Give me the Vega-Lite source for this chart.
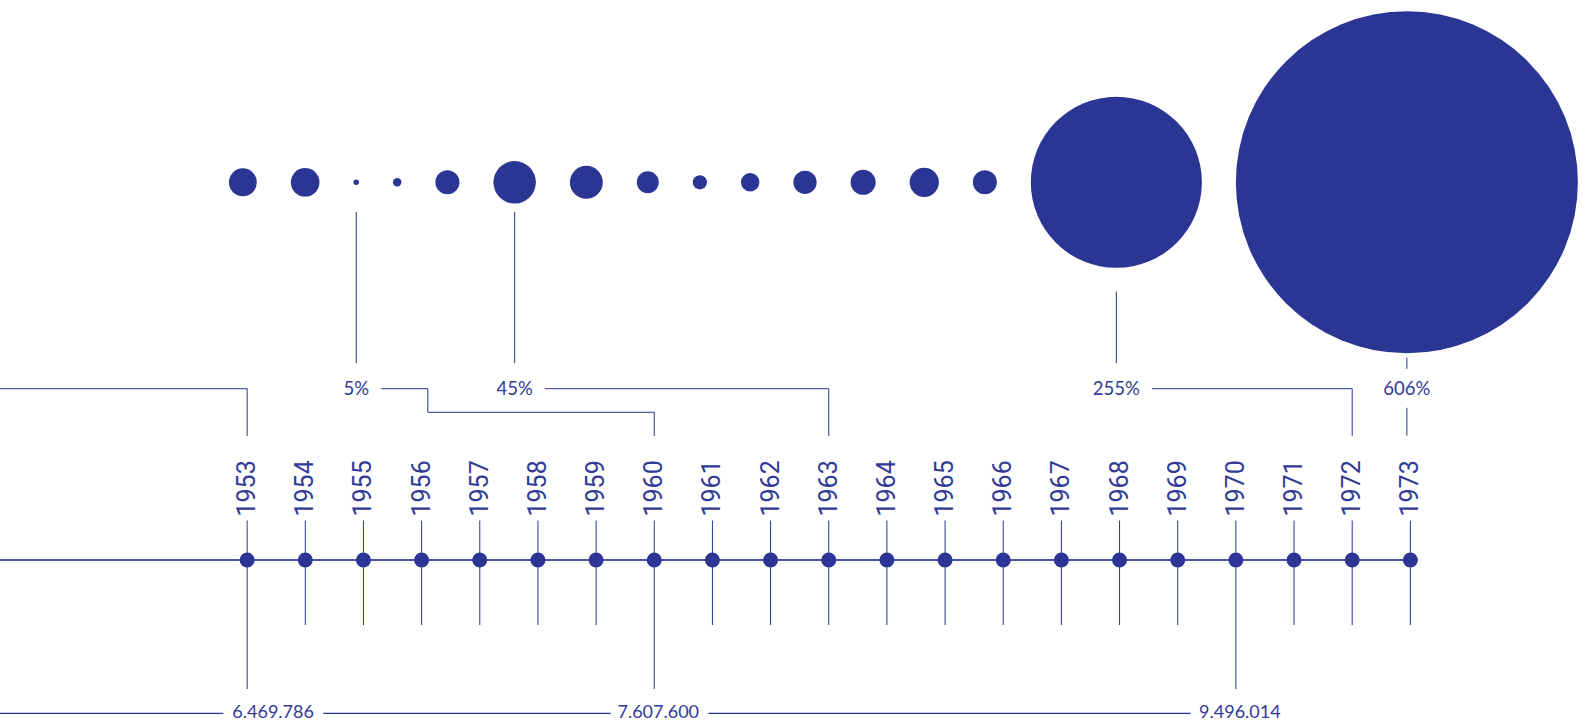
{
  "$schema": "https://vega.github.io/schema/vega-lite/v6.json",
  "width": 1582,
  "height": 724,
  "autosize": {"type": "none"},
  "padding": 0,
  "background": "white",
  "config": {"view": {"stroke": null}},
  "datasets": {
    "timeline": [
      {"year": 1953, "population": 6469786},
      {"year": 1954}, {"year": 1955}, {"year": 1956}, {"year": 1957}, {"year": 1958}, {"year": 1959},
      {"year": 1960, "population": 7607600},
      {"year": 1961}, {"year": 1962}, {"year": 1963}, {"year": 1964}, {"year": 1965}, {"year": 1966},
      {"year": 1967}, {"year": 1968}, {"year": 1969},
      {"year": 1970, "population": 9496014},
      {"year": 1971}, {"year": 1972}, {"year": 1973}
    ],
    "growth": [
      {"year": 1958, "growth": 26.9},
      {"year": 1959, "growth": 27.8},
      {"year": 1960, "growth": 5, "label": "5%"},
      {"year": 1961, "growth": 7.1},
      {"year": 1962, "growth": 22.5},
      {"year": 1963, "growth": 45, "label": "45%"},
      {"year": 1964, "growth": 32.9},
      {"year": 1965, "growth": 20.2},
      {"year": 1966, "growth": 12.2},
      {"year": 1967, "growth": 16.4},
      {"year": 1968, "growth": 21.6},
      {"year": 1969, "growth": 23.6},
      {"year": 1970, "growth": 28.5},
      {"year": 1971, "growth": 22.4},
      {"year": 1972, "growth": 255, "label": "255%"},
      {"year": 1973, "growth": 606, "label": "606%"}
    ]
  },
  "layer": [
    {
      "data": {"name": "timeline"},
      "transform": [
        {"calculate": "isValid(datum.population) ? replace(format(datum.population, ',d'), regexp(',', 'g'), '.') : null", "as": "popLabel"}
      ],
      "layer": [
        {
          "transform": [{"filter": "datum.year == 1953"}],
          "mark": {"type": "rule", "color": "#2b3594", "strokeWidth": 1},
          "encoding": {
            "x": {"field": "year", "type": "quantitative", "scale": {"domain": [1948.751, 1975.951], "nice": false, "zero": false}, "axis": null},
            "x2": {"datum": 1948.751},
            "y": {"datum": 388.7, "type": "quantitative", "scale": {"domainMin": 0, "domainMax": 724, "reverse": true, "nice": false, "zero": false}, "axis": null}
          }
        },
        {
          "transform": [{"filter": "datum.year == 1953"}],
          "mark": {"type": "rule", "color": "#2b3594", "strokeWidth": 1},
          "encoding": {
            "x": {"field": "year", "type": "quantitative", "scale": {"domain": [1948.751, 1975.951], "nice": false, "zero": false}, "axis": null},
            "y": {"datum": 388.7, "type": "quantitative", "scale": {"domainMin": 0, "domainMax": 724, "reverse": true, "nice": false, "zero": false}, "axis": null},
            "y2": {"datum": 436}
          }
        },
        {
          "transform": [{"filter": "datum.year == 1973"}],
          "mark": {"type": "rule", "color": "#4b53a5", "strokeWidth": 2},
          "encoding": {
            "x": {"field": "year", "type": "quantitative", "scale": {"domain": [1948.751, 1975.951], "nice": false, "zero": false}, "axis": null},
            "x2": {"datum": 1948.751},
            "y": {"datum": 560, "type": "quantitative", "scale": {"domainMin": 0, "domainMax": 724, "reverse": true, "nice": false, "zero": false}, "axis": null}
          }
        },
        {
          "transform": [{"filter": "!isValid(datum.population)"}],
          "mark": {"type": "rule", "color": "#2b3594", "strokeWidth": 1},
          "encoding": {
            "x": {"field": "year", "type": "quantitative", "scale": {"domain": [1948.751, 1975.951], "nice": false, "zero": false}, "axis": null},
            "y": {"datum": 520.5, "type": "quantitative", "scale": {"domainMin": 0, "domainMax": 724, "reverse": true, "nice": false, "zero": false}, "axis": null},
            "y2": {"datum": 625}
          }
        },
        {
          "transform": [{"filter": "isValid(datum.population)"}],
          "mark": {"type": "rule", "color": "#2b3594", "strokeWidth": 1},
          "encoding": {
            "x": {"field": "year", "type": "quantitative", "scale": {"domain": [1948.751, 1975.951], "nice": false, "zero": false}, "axis": null},
            "y": {"datum": 520.5, "type": "quantitative", "scale": {"domainMin": 0, "domainMax": 724, "reverse": true, "nice": false, "zero": false}, "axis": null},
            "y2": {"datum": 689}
          }
        },
        {
          "mark": {"type": "circle", "color": "#2b3594", "opacity": 1},
          "encoding": {
            "x": {"field": "year", "type": "quantitative", "scale": {"domain": [1948.751, 1975.951], "nice": false, "zero": false}, "axis": null},
            "y": {"datum": 560, "type": "quantitative", "scale": {"domainMin": 0, "domainMax": 724, "reverse": true, "nice": false, "zero": false}, "axis": null},
            "size": {"value": 225}
          }
        },
        {
          "mark": {"type": "text", "angle": 270, "align": "left", "baseline": "middle", "font": "Roboto", "fontSize": 25, "color": "#323a96"},
          "encoding": {
            "x": {"field": "year", "type": "quantitative", "scale": {"domain": [1948.751, 1975.951], "nice": false, "zero": false}, "axis": null},
            "y": {"datum": 516.5, "type": "quantitative", "scale": {"domainMin": 0, "domainMax": 724, "reverse": true, "nice": false, "zero": false}, "axis": null},
            "text": {"field": "year", "type": "nominal"}
          }
        },
        {
          "transform": [{"filter": "datum.year == 1970"}],
          "mark": {"type": "rule", "color": "#2b3594", "strokeWidth": 1.2},
          "encoding": {
            "x": {"field": "year", "type": "quantitative", "scale": {"domain": [1948.751, 1975.951], "nice": false, "zero": false}, "axis": null},
            "x2": {"datum": 1948.751},
            "y": {"datum": 713.3, "type": "quantitative", "scale": {"domainMin": 0, "domainMax": 724, "reverse": true, "nice": false, "zero": false}, "axis": null}
          }
        },
        {
          "transform": [{"filter": "datum.year == 1953"}],
          "mark": {"type": "text", "align": "center", "baseline": "middle", "dx": 26, "font": "Lato", "fontSize": 18, "color": "white", "stroke": "white", "strokeWidth": 20, "strokeJoin": "round"},
          "encoding": {
            "x": {"field": "year", "type": "quantitative", "scale": {"domain": [1948.751, 1975.951], "nice": false, "zero": false}, "axis": null},
            "y": {"datum": 713.3, "type": "quantitative", "scale": {"domainMin": 0, "domainMax": 724, "reverse": true, "nice": false, "zero": false}, "axis": null},
            "text": {"field": "popLabel", "type": "nominal"}
          }
        },
        {
          "transform": [{"filter": "datum.year == 1953"}],
          "mark": {"type": "text", "align": "center", "baseline": "middle", "dx": 26, "font": "Lato", "fontSize": 18, "color": "#323a96"},
          "encoding": {
            "x": {"field": "year", "type": "quantitative", "scale": {"domain": [1948.751, 1975.951], "nice": false, "zero": false}, "axis": null},
            "y": {"datum": 713.3, "type": "quantitative", "scale": {"domainMin": 0, "domainMax": 724, "reverse": true, "nice": false, "zero": false}, "axis": null},
            "text": {"field": "popLabel", "type": "nominal"}
          }
        },
        {
          "transform": [{"filter": "isValid(datum.population) && datum.year != 1953"}],
          "mark": {"type": "text", "align": "center", "baseline": "middle", "dx": 4, "font": "Lato", "fontSize": 18, "color": "white", "stroke": "white", "strokeWidth": 20, "strokeJoin": "round"},
          "encoding": {
            "x": {"field": "year", "type": "quantitative", "scale": {"domain": [1948.751, 1975.951], "nice": false, "zero": false}, "axis": null},
            "y": {"datum": 713.3, "type": "quantitative", "scale": {"domainMin": 0, "domainMax": 724, "reverse": true, "nice": false, "zero": false}, "axis": null},
            "text": {"field": "popLabel", "type": "nominal"}
          }
        },
        {
          "transform": [{"filter": "isValid(datum.population) && datum.year != 1953"}],
          "mark": {"type": "text", "align": "center", "baseline": "middle", "dx": 4, "font": "Lato", "fontSize": 18, "color": "#323a96"},
          "encoding": {
            "x": {"field": "year", "type": "quantitative", "scale": {"domain": [1948.751, 1975.951], "nice": false, "zero": false}, "axis": null},
            "y": {"datum": 713.3, "type": "quantitative", "scale": {"domainMin": 0, "domainMax": 724, "reverse": true, "nice": false, "zero": false}, "axis": null},
            "text": {"field": "popLabel", "type": "nominal"}
          }
        }
      ]
    },
    {
      "data": {"name": "growth"},
      "transform": [
        {"calculate": "sqrt(116964 * (pow(datum.growth, 1.6) - pow(3, 1.6)) / (pow(606, 1.6) - pow(3, 1.6)))", "as": "d"},
        {"calculate": "datum.d + 34.0", "as": "w"},
        {"window": [{"op": "sum", "field": "w", "as": "cum"}], "sort": [{"field": "year"}], "frame": [null, 0]},
        {"window": [{"op": "first_value", "field": "d", "as": "d1"}], "sort": [{"field": "year"}], "frame": [null, null]},
        {"calculate": "1952.927 + (datum.cum - datum.w + datum.d / 2 - datum.d1 / 2) / 58.163", "as": "bx"},
        {"calculate": "datum.bx + 71.6 / 58.163", "as": "ex"}
      ],
      "layer": [
        {
          "mark": {"type": "circle", "color": "#2b3594", "opacity": 1},
          "encoding": {
            "x": {"field": "bx", "type": "quantitative", "scale": {"domain": [1948.751, 1975.951], "nice": false, "zero": false}, "axis": null},
            "y": {"datum": 182.3, "type": "quantitative", "scale": {"domainMin": 0, "domainMax": 724, "reverse": true, "nice": false, "zero": false}, "axis": null},
            "size": {"field": "growth", "type": "quantitative", "scale": {"type": "pow", "exponent": 1.6, "domain": [3, 606], "range": [0, 116964], "zero": false}, "legend": null}
          }
        },
        {
          "transform": [{"filter": "datum.year == 1960 || datum.year == 1963"}],
          "mark": {"type": "rule", "color": "#2b3594", "strokeWidth": 1},
          "encoding": {
            "x": {"field": "bx", "type": "quantitative", "scale": {"domain": [1948.751, 1975.951], "nice": false, "zero": false}, "axis": null},
            "y": {"datum": 212, "type": "quantitative", "scale": {"domainMin": 0, "domainMax": 724, "reverse": true, "nice": false, "zero": false}, "axis": null},
            "y2": {"datum": 363}
          }
        },
        {
          "transform": [{"filter": "datum.year == 1972"}],
          "mark": {"type": "rule", "color": "#2b3594", "strokeWidth": 1},
          "encoding": {
            "x": {"field": "bx", "type": "quantitative", "scale": {"domain": [1948.751, 1975.951], "nice": false, "zero": false}, "axis": null},
            "y": {"datum": 291.6, "type": "quantitative", "scale": {"domainMin": 0, "domainMax": 724, "reverse": true, "nice": false, "zero": false}, "axis": null},
            "y2": {"datum": 363}
          }
        },
        {
          "transform": [{"filter": "datum.year == 1973"}],
          "mark": {"type": "rule", "color": "#2b3594", "strokeWidth": 1},
          "encoding": {
            "x": {"field": "bx", "type": "quantitative", "scale": {"domain": [1948.751, 1975.951], "nice": false, "zero": false}, "axis": null},
            "y": {"datum": 357.7, "type": "quantitative", "scale": {"domainMin": 0, "domainMax": 724, "reverse": true, "nice": false, "zero": false}, "axis": null},
            "y2": {"datum": 435.7}
          }
        },
        {
          "transform": [{"filter": "datum.year == 1963 || datum.year == 1972"}],
          "mark": {"type": "rule", "color": "#2b3594", "strokeWidth": 1},
          "encoding": {
            "x": {"field": "bx", "type": "quantitative", "scale": {"domain": [1948.751, 1975.951], "nice": false, "zero": false}, "axis": null},
            "x2": {"field": "year"},
            "y": {"datum": 388.7, "type": "quantitative", "scale": {"domainMin": 0, "domainMax": 724, "reverse": true, "nice": false, "zero": false}, "axis": null}
          }
        },
        {
          "transform": [{"filter": "datum.year == 1963 || datum.year == 1972"}],
          "mark": {"type": "rule", "color": "#2b3594", "strokeWidth": 1},
          "encoding": {
            "x": {"field": "year", "type": "quantitative", "scale": {"domain": [1948.751, 1975.951], "nice": false, "zero": false}, "axis": null},
            "y": {"datum": 388.7, "type": "quantitative", "scale": {"domainMin": 0, "domainMax": 724, "reverse": true, "nice": false, "zero": false}, "axis": null},
            "y2": {"datum": 436}
          }
        },
        {
          "transform": [{"filter": "datum.year == 1960"}],
          "mark": {"type": "rule", "color": "#2b3594", "strokeWidth": 1},
          "encoding": {
            "x": {"field": "bx", "type": "quantitative", "scale": {"domain": [1948.751, 1975.951], "nice": false, "zero": false}, "axis": null},
            "x2": {"field": "ex"},
            "y": {"datum": 388.7, "type": "quantitative", "scale": {"domainMin": 0, "domainMax": 724, "reverse": true, "nice": false, "zero": false}, "axis": null}
          }
        },
        {
          "transform": [{"filter": "datum.year == 1960"}],
          "mark": {"type": "rule", "color": "#2b3594", "strokeWidth": 1},
          "encoding": {
            "x": {"field": "ex", "type": "quantitative", "scale": {"domain": [1948.751, 1975.951], "nice": false, "zero": false}, "axis": null},
            "y": {"datum": 388.7, "type": "quantitative", "scale": {"domainMin": 0, "domainMax": 724, "reverse": true, "nice": false, "zero": false}, "axis": null},
            "y2": {"datum": 412.3}
          }
        },
        {
          "transform": [{"filter": "datum.year == 1960"}],
          "mark": {"type": "rule", "color": "#2b3594", "strokeWidth": 1},
          "encoding": {
            "x": {"field": "ex", "type": "quantitative", "scale": {"domain": [1948.751, 1975.951], "nice": false, "zero": false}, "axis": null},
            "x2": {"field": "year"},
            "y": {"datum": 412.3, "type": "quantitative", "scale": {"domainMin": 0, "domainMax": 724, "reverse": true, "nice": false, "zero": false}, "axis": null}
          }
        },
        {
          "transform": [{"filter": "datum.year == 1960"}],
          "mark": {"type": "rule", "color": "#2b3594", "strokeWidth": 1},
          "encoding": {
            "x": {"field": "year", "type": "quantitative", "scale": {"domain": [1948.751, 1975.951], "nice": false, "zero": false}, "axis": null},
            "y": {"datum": 412.3, "type": "quantitative", "scale": {"domainMin": 0, "domainMax": 724, "reverse": true, "nice": false, "zero": false}, "axis": null},
            "y2": {"datum": 436}
          }
        },
        {
          "transform": [{"filter": "isValid(datum.label)"}],
          "mark": {"type": "text", "align": "center", "baseline": "middle", "font": "Lato", "fontSize": 18.5, "color": "white", "stroke": "white", "strokeWidth": 26, "strokeJoin": "round"},
          "encoding": {
            "x": {"field": "bx", "type": "quantitative", "scale": {"domain": [1948.751, 1975.951], "nice": false, "zero": false}, "axis": null},
            "y": {"datum": 389, "type": "quantitative", "scale": {"domainMin": 0, "domainMax": 724, "reverse": true, "nice": false, "zero": false}, "axis": null},
            "text": {"field": "label", "type": "nominal"}
          }
        },
        {
          "transform": [{"filter": "isValid(datum.label)"}],
          "mark": {"type": "text", "align": "center", "baseline": "middle", "font": "Lato", "fontSize": 18.5, "color": "#323a96"},
          "encoding": {
            "x": {"field": "bx", "type": "quantitative", "scale": {"domain": [1948.751, 1975.951], "nice": false, "zero": false}, "axis": null},
            "y": {"datum": 389, "type": "quantitative", "scale": {"domainMin": 0, "domainMax": 724, "reverse": true, "nice": false, "zero": false}, "axis": null},
            "text": {"field": "label", "type": "nominal"}
          }
        }
      ]
    }
  ]
}
